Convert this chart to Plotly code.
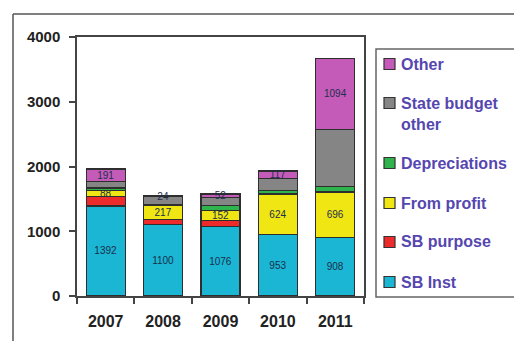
import plotly.graph_objects as go

# ---- data ----
years = ["2007", "2008", "2009", "2010", "2011"]
sb_inst = [1392, 1100, 1076, 953, 908]
sb_purpose = [150, 80, 95, 0, 0]
from_profit = [88, 217, 152, 624, 696]
depreciations = [40, 15, 70, 55, 90]
state_budget_other = [100, 120, 130, 180, 880]
other = [191, 24, 52, 117, 1094]

series_names = ["SB Inst", "SB purpose", "From profit", "Depreciations",
                "State budget other", "Other"]
legend_labels = ["SB Inst", "SB purpose", "From profit", "Depreciations",
                 "State budget<br>other", "Other"]
series_values = [sb_inst, sb_purpose, from_profit, depreciations,
                 state_budget_other, other]
series_colors = ["#1ab6d4", "#ee2b2b", "#f0e614", "#2fb34c", "#858585", "#c55bb9"]
show_labels = [True, False, True, False, False, True]

y_ticks = [0, 1000, 2000, 3000, 4000]

# ---- layout geometry (pixels in the 522x341 window) ----
OFF = 8  # default page body margin offsets the figure div
W, H = 522 - OFF, 341 - OFF
L, R, T, B = 77, 364, 37, 296
pw, ph = R - L, B - T


def px_x(x):
    return (x - L) / pw


def px_y(y):
    return (B - y) / ph


FONT = "Arial, Liberation Sans, sans-serif"

fig = go.Figure()
for name, vals, col, lab in zip(series_names, series_values, series_colors, show_labels):
    fig.add_trace(go.Bar(
        x=years, y=vals, name=name,
        marker=dict(color=col, line=dict(color="#2e2e2e", width=1.3)),
        text=[str(v) for v in vals] if lab else None,
        textposition="inside" if lab else "none",
        insidetextanchor="middle",
        textangle=0,
        textfont=dict(family=FONT, size=10, color="#1b2f4c"),
        showlegend=False,
        hoverinfo="x+y+name",
    ))

fig.update_layout(
    barmode="stack",
    bargap=0.32,
    width=W, height=H,
    margin=dict(l=L - OFF, r=W - (R - OFF), t=T - OFF, b=H - (B - OFF), pad=0),
    paper_bgcolor="white", plot_bgcolor="white",
    uniformtext=dict(minsize=10, mode="show"),
    font=dict(family=FONT),
    showlegend=False,
)
fig.update_yaxes(
    range=[0, 4000], tickvals=y_ticks, ticktext=[str(v) for v in y_ticks],
    showgrid=False, zeroline=False,
    showline=True, linecolor="#444444", linewidth=1.5, mirror=True,
    ticks="outside", ticklen=6, tickcolor="#444444", tickwidth=1.5,
    tickfont=dict(family=FONT, size=15, color="#222222", weight="bold"),
    ticklabelstandoff=6,
    automargin=False,
)
fig.update_xaxes(
    showgrid=False, zeroline=False,
    showline=True, linecolor="#444444", linewidth=1.5, mirror=True,
    ticks="outside", ticklen=6, tickcolor="#444444", tickwidth=1.5,
    tickson="boundaries",
    tickfont=dict(family=FONT, size=16, color="#222222", weight="bold"),
    ticklabelstandoff=10,
    automargin=False,
)

shapes = []
# outer chart frame (top and left edges visible)
shapes.append(dict(type="line", xref="paper", yref="paper",
                   x0=px_x(13), x1=px_x(530), y0=px_y(14), y1=px_y(14),
                   line=dict(color="#555555", width=1.5)))
shapes.append(dict(type="line", xref="paper", yref="paper",
                   x0=px_x(13), x1=px_x(13), y0=px_y(14), y1=px_y(345),
                   line=dict(color="#555555", width=1.5)))
# legend box
shapes.append(dict(type="rect", xref="paper", yref="paper",
                   x0=px_x(376), x1=px_x(519), y0=px_y(297), y1=px_y(49),
                   line=dict(color="#666666", width=1.5), fillcolor="white"))

annotations = []
legend_rows = [282, 242, 203, 163, 103, 64]  # row centres, same order as series
for lab, col, yc in zip(legend_labels, series_colors, legend_rows):
    shapes.append(dict(type="rect", xref="paper", yref="paper",
                       x0=px_x(384), x1=px_x(395), y0=px_y(yc + 5.5), y1=px_y(yc - 5.5),
                       line=dict(color="#333333", width=1.2), fillcolor=col))
    annotations.append(dict(
        xref="paper", yref="paper", x=px_x(399), y=px_y(yc - 10.5),
        xanchor="left", yanchor="top", align="left", showarrow=False,
        text=lab,
        font=dict(family=FONT, size=16, color="#5546b0", weight="bold"),
    ))

fig.update_layout(shapes=shapes, annotations=annotations)

fig.write_html("out.html")
